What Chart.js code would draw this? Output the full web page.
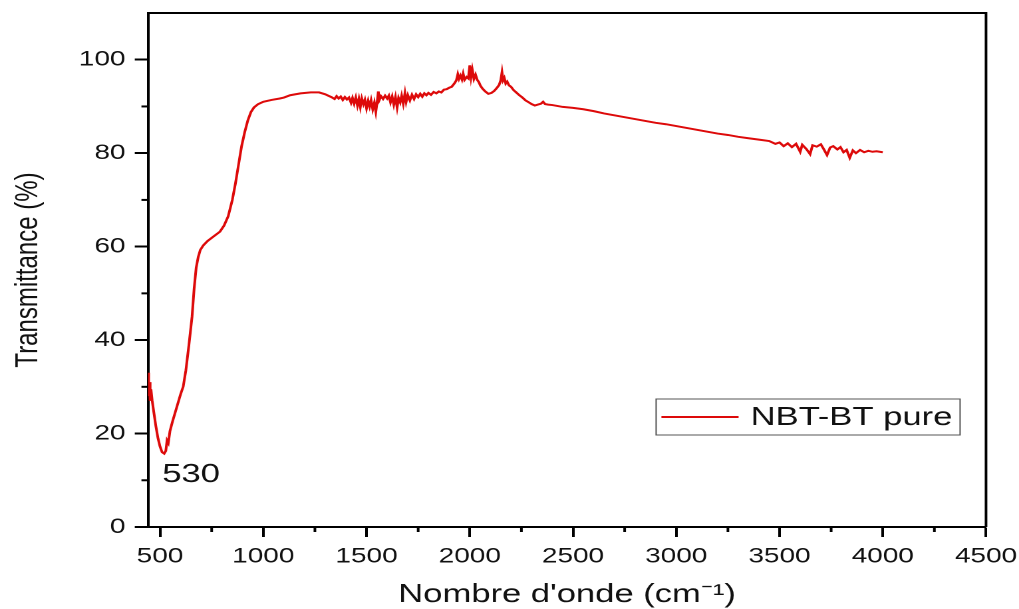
<!DOCTYPE html>
<html>
<head>
<meta charset="utf-8">
<script src="https://cdn.jsdelivr.net/npm/chart.js@4"></script>
<style>
  body { margin: 0; background: #fff; overflow: hidden; }
  /* the reference is stretched sideways, so the canvas is too */
  #chart { transform: scaleX(1.3303); transform-origin: 0 0; }
</style>
</head>
<body>
<canvas id="chart" width="766" height="609"></canvas>
<script>
'use strict';

// wavenumber (cm-1)
const waveNumbers = [
  442, 445, 448, 452, 456, 462, 470, 480, 490, 500, 510, 520, 528, 534, 540, 548,
  560, 580, 600, 612, 625, 640, 655, 665, 675, 685, 695, 710, 730, 760, 790, 810,
  830, 850, 865, 880, 895, 910, 925, 940, 955, 975, 1000, 1040, 1080, 1100, 1130,
  1180, 1230, 1270,
  1300, 1315, 1330, 1345, 1355, 1365, 1375, 1385, 1395, 1405, 1415, 1425, 1432,
  1440, 1448, 1456, 1463, 1470, 1477, 1485, 1492, 1500, 1508, 1515, 1522, 1530,
  1538, 1545, 1552, 1557, 1562, 1570, 1580, 1590, 1600, 1608, 1616, 1624, 1632,
  1640, 1648, 1655, 1663, 1670, 1678, 1686, 1692, 1700, 1710, 1720, 1730, 1740,
  1750, 1760, 1770, 1780, 1790, 1800, 1812, 1825, 1838, 1850, 1862, 1875, 1888,
  1900, 1912, 1925, 1935, 1942, 1948, 1955, 1962, 1968, 1975, 1985, 1993, 2000,
  2006, 2012, 2020, 2028, 2036, 2044, 2052, 2062, 2075, 2090, 2105, 2118, 2130,
  2142, 2150, 2156, 2161, 2167, 2174, 2181, 2190, 2200, 2212, 2225, 2240, 2255,
  2270, 2285, 2300, 2315, 2330, 2345, 2355, 2365, 2380, 2400, 2450, 2500, 2550,
  2600, 2650, 2700, 2750, 2800, 2850, 2900, 2950, 3000, 3050, 3100, 3150, 3200,
  3250, 3300, 3350, 3400, 3450, 3480, 3500, 3520, 3540, 3560, 3580, 3600, 3610,
  3630, 3648, 3660, 3680, 3700, 3715, 3730, 3745, 3760, 3780, 3795, 3810, 3825,
  3840, 3855, 3870, 3890, 3910, 3930, 3950, 3970, 4000
];

// transmittance (%) at each wavenumber
const transmittance = [
  33.0, 28.0, 31.0, 27.0, 29.5, 27.0, 24.5, 21.5, 19.0, 17.2, 16.0, 15.7, 16.3, 18.5, 18.0, 20.5,
  22.5, 25.5, 28.5, 30.0, 33.5, 39.0, 45.0, 51.0, 55.5, 57.8, 59.3, 60.3, 61.2, 62.2, 63.2, 64.5,
  66.5, 70.0, 73.5, 77.5, 81.5, 84.5, 87.0, 88.8, 89.8, 90.5, 91.0, 91.4, 91.7, 91.9, 92.4,
  92.8, 93.0, 93.0,
  92.6, 92.3, 92.0, 91.6, 92.2, 91.7, 92.1, 91.4, 92.0, 91.5, 91.9, 90.8, 91.8,
  90.6, 91.9, 90.2, 91.6, 89.9, 91.7, 90.5, 91.4, 89.6, 91.2, 90.0, 91.3, 89.4,
  90.8, 88.9, 91.2, 93.2, 91.4, 92.2, 91.6, 92.3, 91.7, 92.3, 90.9, 92.1, 90.4,
  92.0, 89.8, 91.8, 90.9, 92.3, 90.6, 92.8, 91.0, 92.4, 91.3, 92.5, 91.6, 92.6,
  92.0, 92.7, 92.1, 92.8, 92.4, 92.9, 92.5, 93.1, 92.8, 93.2, 93.0, 93.6, 93.7,
  94.0, 94.2, 94.9, 95.6, 96.9, 95.9, 96.6, 95.8, 97.0, 95.7, 96.3, 96.0, 98.8,
  96.3, 97.9, 95.9, 96.8, 95.7, 95.2, 94.4, 93.8, 93.2, 92.7, 92.9, 93.3, 93.9,
  94.6, 95.6, 97.3, 95.6, 96.1, 94.9, 95.3, 94.5, 94.2, 93.5, 93.0, 92.4, 91.9,
  91.3, 90.9, 90.5, 90.2, 90.4, 90.6, 91.0, 90.5, 90.4, 90.3, 89.9, 89.7, 89.4,
  89.0, 88.5, 88.1, 87.7, 87.3, 86.9, 86.5, 86.2, 85.8, 85.4, 85.0, 84.6, 84.2,
  83.9, 83.5, 83.2, 82.9, 82.6, 82.0, 82.3, 81.5, 82.1, 81.3, 82.0, 80.3, 81.8,
  80.9, 79.8, 81.7, 81.4, 81.9, 80.8, 79.6, 81.2, 81.5, 80.8, 81.3, 80.2, 80.7,
  79.0, 80.6, 80.0, 80.7, 80.2, 80.5, 80.3, 80.4, 80.2
];

const seriesLabel = 'NBT-BT pure';
const peakWave = 530;
const xTickValues = [500, 1000, 1500, 2000, 2500, 3000, 3500, 4000, 4500];
const xMinorValues = [750, 1250, 1750, 2250, 2750, 3250, 3750, 4250];
const yTickValues = [0, 20, 40, 60, 80, 100];
const yMinorValues = [10, 30, 50, 70, 90];

const fontFamily = '"Liberation Sans", Arial, sans-serif';
const lineRed = '#dd0a0a';

// minor ticks, box frame, legend and the peak label
const extrasPlugin = {
  id: 'extras',
  afterDraw(chart) {
    const ctx = chart.ctx;
    const area = chart.chartArea;
    const xs = chart.scales.x;
    const ys = chart.scales.y;
    ctx.save();
    ctx.strokeStyle = '#000';

    ctx.lineWidth = 2;
    ctx.beginPath();
    ctx.moveTo(area.left, area.top);
    ctx.lineTo(area.right, area.top);
    ctx.lineTo(area.right, area.bottom);
    ctx.stroke();

    xMinorValues.forEach(v => {
      const px = xs.getPixelForValue(v);
      ctx.beginPath();
      ctx.moveTo(px, area.bottom);
      ctx.lineTo(px, area.bottom + 5);
      ctx.stroke();
    });
    yMinorValues.forEach(v => {
      const py = ys.getPixelForValue(v);
      ctx.beginPath();
      ctx.moveTo(area.left - 5, py);
      ctx.lineTo(area.left, py);
      ctx.stroke();
    });

    // legend box
    const boxRight = area.right - 19.5;
    const boxLeft = boxRight - 228.5;
    const boxTop = 399;
    const boxH = 36;
    ctx.lineWidth = 1;
    ctx.strokeStyle = '#555';
    ctx.strokeRect(boxLeft, boxTop, boxRight - boxLeft, boxH);
    const ds = chart.data.datasets[0];
    ctx.strokeStyle = ds.borderColor;
    ctx.lineWidth = 2;
    ctx.beginPath();
    ctx.moveTo(boxLeft + 4, boxTop + boxH / 2);
    ctx.lineTo(boxLeft + 62, boxTop + boxH / 2);
    ctx.stroke();
    ctx.fillStyle = '#111';
    ctx.font = '26px ' + fontFamily;
    ctx.textBaseline = 'middle';
    ctx.textAlign = 'left';
    ctx.fillText(ds.label, boxLeft + 71, boxTop + boxH / 2 + 1);

    // peak label
    ctx.textBaseline = 'alphabetic';
    ctx.fillText(String(peakWave), xs.getPixelForValue(peakWave) - 3, ys.getPixelForValue(9.6));
    ctx.restore();
  }
};

// keep the plot box where the reference has it, whatever the labels need
function zeroPadding(scale) {
  scale.paddingTop = 0;
  scale.paddingBottom = 0;
  scale.paddingLeft = 0;
  scale.paddingRight = 0;
}

const chartData = {
  datasets: [
    {
      label: seriesLabel,
      data: waveNumbers.map((w, i) => ({ x: w, y: transmittance[i] })),
      borderColor: lineRed,
      borderWidth: 2,
      pointRadius: 0,
      tension: 0,
      fill: false,
    },
  ],
};

const chartConfig = {
  type: 'line',
  data: chartData,
  options: {
    responsive: false,
    devicePixelRatio: 2,
    animation: false,
    layout: { padding: { top: 13, right: 24.8, bottom: 0, left: 0 } },
    plugins: {
      legend: { display: false },
      tooltip: { enabled: false },
    },
    scales: {
      x: {
        type: 'linear',
        min: 442,
        max: 4500,
        afterBuildTicks: scale => { scale.ticks = xTickValues.map(v => ({ value: v })); },
        afterFit: scale => { scale.height = 82; zeroPadding(scale); },
        grid: { drawOnChartArea: false, drawTicks: true, tickLength: 10, tickWidth: 2, tickColor: '#000' },
        border: { display: true, color: '#000', width: 2 },
        ticks: {
          font: { size: 21, family: fontFamily },
          color: '#111',
          padding: 7,
          maxRotation: 0,
          autoSkip: false,
          callback: v => String(v),
        },
        title: {
          display: true,
          text: 'Nombre d\'onde (cm\u207B\u00B9)',
          color: '#111',
          font: { size: 26, family: fontFamily, lineHeight: 1.1 },
          padding: { top: 0, bottom: 0 },
        },
      },
      y: {
        min: 0,
        max: 110,
        afterBuildTicks: scale => { scale.ticks = yTickValues.map(v => ({ value: v })); },
        afterFit: scale => { scale.width = 111.3; zeroPadding(scale); },
        grid: { drawOnChartArea: false, drawTicks: true, tickLength: 10, tickWidth: 2, tickColor: '#000' },
        border: { display: true, color: '#000', width: 2 },
        ticks: {
          font: { size: 21, family: fontFamily },
          color: '#111',
          padding: 7,
          callback: v => String(v),
        },
        title: {
          display: true,
          text: 'Transmittance (%)',
          color: '#111',
          font: { size: 24, family: fontFamily, lineHeight: 1.2 },
          padding: { top: 7, bottom: 0 },
        },
      },
    },
  },
  plugins: [extrasPlugin],
};

const myChart = new Chart(document.getElementById('chart'), chartConfig);
</script>
</body>
</html>
